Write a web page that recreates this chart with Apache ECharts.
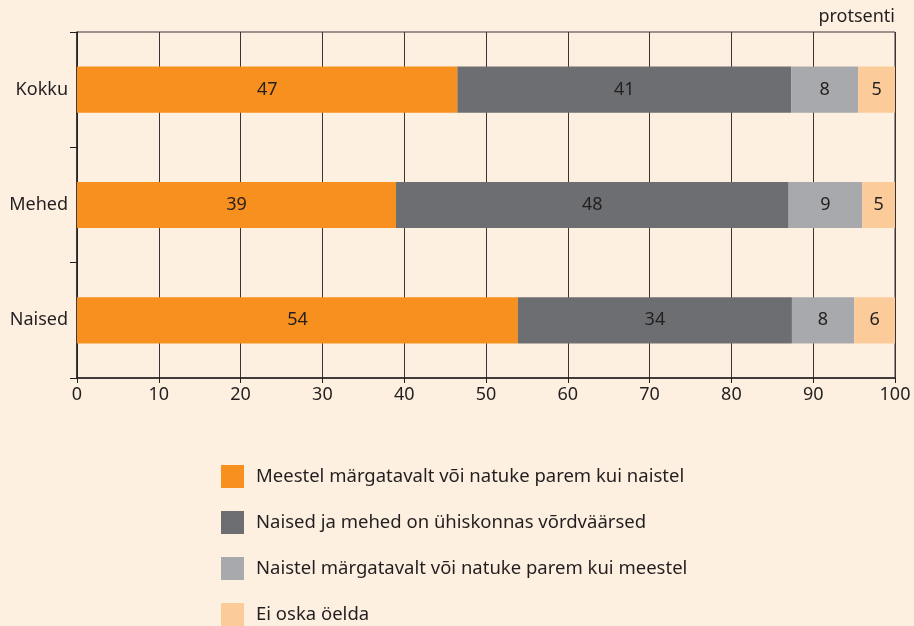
<!DOCTYPE html>
<html>
<head>
<meta charset="utf-8">
<script src="https://cdn.jsdelivr.net/npm/echarts@6/dist/echarts.min.js"></script>
<style>
  html, body { margin: 0; padding: 0; background: #FEF0E1; }
  #chart { width: 914px; height: 626px; }
</style>
</head>
<body>
<div id="chart"></div>
<script>
var categories = ['Kokku', 'Mehed', 'Naised'];
var seriesNames = [
    'Meestel märgatavalt või natuke parem kui naistel',
    'Naised ja mehed on ühiskonnas võrdväärsed',
    'Naistel märgatavalt või natuke parem kui meestel',
    'Ei oska öelda'
];
// bar lengths
var meesParem = [46.5, 39.0, 53.9];
var vordsed = [40.8, 48.0, 33.5];
var naisParem = [8.2, 9.0, 7.6];
var eiOska = [4.5, 4.0, 5.0];
// rounded numbers printed on the bars
var meesParemLbl = [47, 39, 54];
var vordsedLbl = [41, 48, 34];
var naisParemLbl = [8, 9, 8];
var eiOskaLbl = [5, 5, 6];
var xTicks = [0, 10, 20, 30, 40, 50, 60, 70, 80, 90, 100];

var colors = ['#F7901E', '#6D6E71', '#A7A9AC', '#FBCB9A'];
var FONT = '"Noto Sans", sans-serif';

function makeSeries(i, values, labels){
    return {
        name: seriesNames[i],
        type: 'bar',
        stack: 'total',
        barWidth: '40%',
        itemStyle: { color: colors[i] },
        label: {
            show: true,
            position: 'inside',
            color: '#231F20',
            fontFamily: FONT,
            fontSize: 18,
            formatter: function (p) { return labels[p.dataIndex]; }
        },
        data: values
    };
}

var myChart = echarts.init(document.getElementById('chart'));
var option = {
    backgroundColor: '#FEF0E1',
    animation: false,
    title: {
        text: 'protsenti',
        right: 14,
        top: 3,
        textStyle: { fontFamily: FONT, fontSize: 18, fontWeight: 'normal', color: '#231F20' }
    },
    legend: {
        orient: 'vertical',
        left: 216,
        top: 460,
        height: 180,
        itemWidth: 23,
        itemHeight: 23,
        itemGap: 23,
        icon: 'rect',
        textStyle: { fontFamily: FONT, fontSize: 18.5, color: '#231F20', padding: [0, 0, 0, 7] },
        data: seriesNames
    },
    grid: {
        left: 77,
        right: 19,
        top: 32,
        bottom: 248,
        show: true,
        borderColor: '#3a3434',
        borderWidth: 1,
        backgroundColor: 'transparent'
    },
    xAxis: {
        type: 'value',
        min: 0,
        max: 100,
        interval: 10,
        axisLine: { show: true, lineStyle: { color: '#231F20', width: 1.5 } },
        axisTick: { show: true, length: 5, lineStyle: { color: '#231F20' } },
        splitLine: { show: true, lineStyle: { color: '#3a3434', width: 1 } },
        axisLabel: {
            fontFamily: FONT, fontSize: 18, color: '#231F20', margin: 8,
            formatter: function (v) { return xTicks.indexOf(v) >= 0 ? String(v) : ''; }
        }
    },
    yAxis: {
        type: 'category',
        inverse: true,
        data: categories,
        axisLine: { show: true, lineStyle: { color: '#231F20', width: 1.5 } },
        axisTick: { show: true, length: 7, lineStyle: { color: '#231F20' } },
        axisLabel: { fontFamily: FONT, fontSize: 18, color: '#231F20', margin: 9 }
    },
    series: [
        makeSeries(0, meesParem, meesParemLbl),
        makeSeries(1, vordsed, vordsedLbl),
        makeSeries(2, naisParem, naisParemLbl),
        makeSeries(3, eiOska, eiOskaLbl)
    ]
};
myChart.setOption(option);
</script>
</body>
</html>
